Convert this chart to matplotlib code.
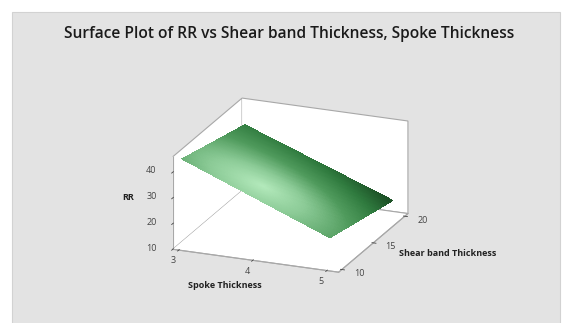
import numpy as np
import matplotlib
matplotlib.use('Agg')
import matplotlib.pyplot as plt
from matplotlib.colors import LinearSegmentedColormap
from matplotlib.patches import Rectangle

spoke_ticks = [3, 4, 5]
shear_ticks = [10, 15, 20]
rr_ticks = [10, 20, 30, 40]
spoke_ends = [3, 5]
shear_ends = [10, 20]
# rows = shear band, columns = spoke
rr_corners = [[44.4, 21.7],
              [37.0, 15.5]]

fig = plt.figure(figsize=(5.62, 3.23), dpi=100, facecolor='white')
plt.rcParams['font.family'] = ['Open Sans', 'DejaVu Sans']
# grey chart area, the screenshot has a white strip top and left
fig.add_artist(Rectangle((12/562, -3/323), 548/562, 1-9/323, transform=fig.transFigure,
                         facecolor='#e3e3e3', edgecolor='#d2d2d2', linewidth=0.8, zorder=-1))
ax = fig.add_axes([5/562, -28/323, 1.0, 1.0], projection='3d', facecolor='none')
ax.set_proj_type('ortho')
ax.view_init(elev=20, azim=-68)
ax.set_box_aspect((178, 184, 98), zoom=0.828)

# fine mesh over the four corners so the shading looks smooth
u = np.linspace(0, 1, 121)
v = np.linspace(0, 1, 121)
U, V = np.meshgrid(u, v)
c = np.array(rr_corners)
Z = (c[0, 0]*(1-U)*(1-V) + c[0, 1]*U*(1-V) + c[1, 0]*(1-U)*V + c[1, 1]*U*V)
X = spoke_ends[0] + U*(spoke_ends[1]-spoke_ends[0])
Y = shear_ends[0] + V*(shear_ends[1]-shear_ends[0])

greens = LinearSegmentedColormap.from_list('greens', ['#b8edc0', '#8ccb97', '#4f9a5c', '#2f7a3e', '#1d5227'])
r = np.sqrt(((U-0.45)/1.1)**2 + ((V-0.22)/1.0)**2)
shade = 0.82*r + 0.3*U*V
surf = ax.plot_surface(X, Y, Z, facecolors=greens(np.clip(shade, 0, 1)), rstride=1, cstride=1,
                       linewidth=0, antialiased=False, shade=False)
surf.set_clip_on(False)

ax.set_xlim(2.92, 5.16, view_margin=0)
ax.set_ylim(9.5, 20.5, view_margin=0)
ax.set_zlim(10, 46, view_margin=0)
ax.set_xticks(spoke_ticks)
ax.set_yticks(shear_ticks)
ax.set_zticks(rr_ticks)
ax.grid(False)
for axis in (ax.xaxis, ax.yaxis, ax.zaxis):
    axis.set_pane_color('white')
    axis.pane.set_edgecolor('#a8a8a8')
    axis.pane.set_linewidth(0.8)
    axis.line.set_color('#a8a8a8')
    axis.line.set_linewidth(0.8)
    axis._axinfo['tick']['color'] = '#a8a8a8'
    axis._axinfo['tick']['linewidth'] = {True: 0.6, False: 0.4}
ax.tick_params(labelsize=6.5, colors='#444444', pad=0)
ax.zaxis.set_ticks_position('lower')
ax.zaxis.set_tick_params(pad=3)
ax.xaxis.set_tick_params(pad=-3)
ax.yaxis.set_tick_params(pad=1)
for t in ax.zaxis.get_ticklabels():
    t.set_va('bottom')
for t in ax.xaxis.get_ticklabels():
    t.set_ha('right')
for t in ax.yaxis.get_ticklabels():
    t.set_va('bottom')
    t.set_ha('left')

label_kw = dict(ha='center', va='center', fontsize=6.5, fontweight='bold', color='#222222')
fig.text(225/562, 1-286/323, 'Spoke Thickness', **label_kw)
fig.text(448/562, 1-253/323, 'Shear band Thickness', **label_kw)
fig.text(128/562, 1-197/323, 'RR', **label_kw)

fig.text(289/562, 1-34.5/323, 'Surface Plot of RR vs Shear band Thickness, Spoke Thickness',
         ha='center', va='center', fontsize=11.2, fontweight='semibold', color='#1a1a1a')

fig.savefig('out.png', dpi=100, facecolor=fig.get_facecolor())
